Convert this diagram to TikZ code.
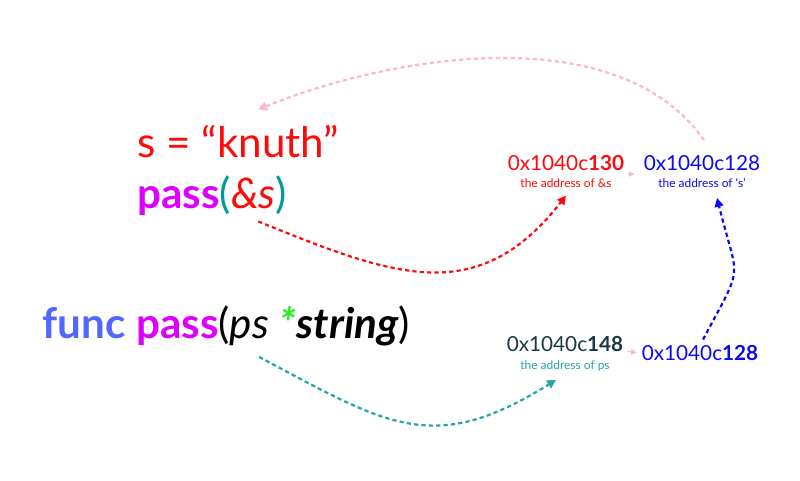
\documentclass[tikz,border=0pt]{standalone}
\usepackage{fontspec}
\setmainfont{Lato}
\usetikzlibrary{calc,positioning,arrows.meta}

\definecolor{knuthred}{HTML}{FF0A0A}
\definecolor{passpink}{HTML}{DD00FF}
\definecolor{parteal}{HTML}{009A9A}
\definecolor{funcblue}{HTML}{5068FF}
\definecolor{addrblue}{HTML}{0A0AF0}
\definecolor{starg}{HTML}{22EE22}
\definecolor{psdark}{HTML}{183A3E}
\definecolor{psteal}{HTML}{22A6A6}
\definecolor{linkpink}{HTML}{FFB6C6}

\begin{document}
\begin{tikzpicture}[
    code/.style={anchor=base west, inner sep=0pt, font=\fontsize{24}{28}\selectfont},
    addr/.style={anchor=base, inner sep=0pt, font=\fontsize{11.8}{14}\selectfont},
    note/.style={inner sep=0pt, font=\fontsize{6.8}{8}\selectfont},
    link/.style={dashed, dash pattern=on 2.4pt off 1.8pt, line width=1.25pt, -{Triangle[length=5pt,width=5pt]}}
  ]
    \useasboundingbox (0,0) rectangle (16,9.6);

    % Code lines
    \node[code, text=knuthred] (S) at (2.74,6.46) {s = “knuth”};
    \node[code] (P) at (2.74,5.44) {\textbf{\color{passpink}pass}\color{parteal}(\textit{\color{knuthred}\&s})};
    \node[code] (F) at (0.84,2.84) {\textbf{\color{funcblue}func} \textbf{\color{passpink}pass}(\textit{ps} \textbf{\textit{\color{starg}*}\textit{string}})};

    % Addresses
    \node[addr, text=knuthred] (A) at (11.32,6.19) {0x1040c\textbf{130}};
    \node[note, text=knuthred, below=4pt of A] (a) {the address of \&s};
    \node[addr, text=addrblue] (B) at (14.04,6.19) {0x1040c128};
    \node[note, text=addrblue, below=4pt of B] (b) {the address of ‘s’};
    \node[addr, text=psdark] (C) at (11.30,2.58) {0x1040c\textbf{148}};
    \node[note, text=psteal, below=5pt of C] (c) {the address of ps};
    \node[addr, text=addrblue] (D) at (14.0,2.4) {0x1040c\textbf{128}};

    % Links
    \draw[link, knuthred] ($(P.south east)+(-0.58,-0.12)$) to[out=-22, in=232, looseness=1.2] ($(a.south)+(0,-0.16)$);
    \draw[link, psteal] ($(F.south)+(0.66,-0.22)$) to[out=-28, in=212, looseness=1.25] ($(c.south)+(-0.18,-0.16)$);
    \draw[link, addrblue] ($(D.north)+(0.06,0.1)$) to[out=62, in=-76, looseness=1.6] ($(b.south)+(0.3,-0.2)$);
    \draw[link, linkpink] ($(B.north)+(0.04,0.3)$) to[out=125, in=22, looseness=0.85] ($(S.north)+(0.4,0.3)$);
    \draw[link, linkpink, line width=0.6pt, -{Triangle[length=3pt,width=3pt]}] ($(A.east)+(0.06,-0.22)$) -- ($(B.west)+(-0.18,-0.22)$);
    \draw[link, linkpink, line width=0.6pt, -{Triangle[length=3pt,width=3pt]}] ($(C.east)+(0.08,-0.16)$) -- ($(D.west)+(-0.1,0)$);
\end{tikzpicture}
\end{document}
